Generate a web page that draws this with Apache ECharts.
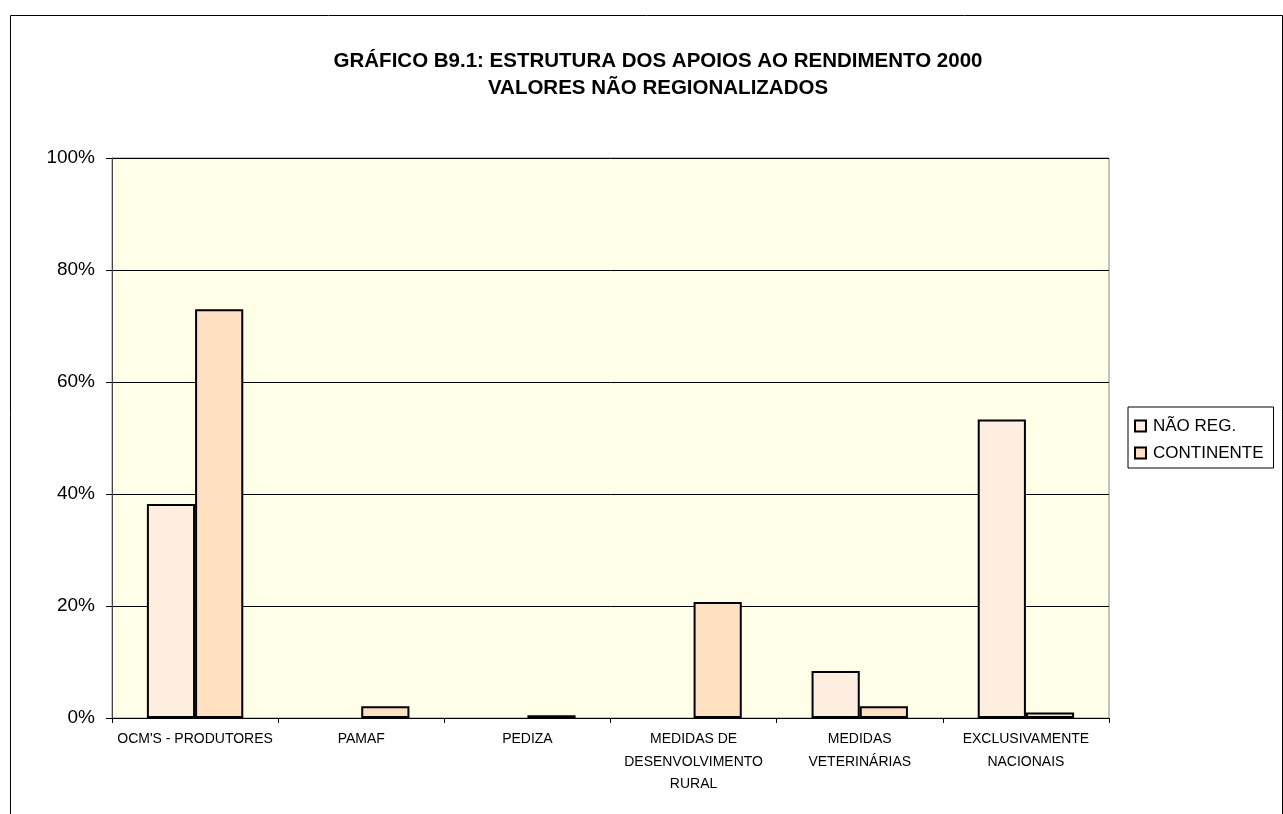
<!DOCTYPE html>
<html><head><meta charset="utf-8">
<script src="https://cdn.jsdelivr.net/npm/echarts@6/dist/echarts.min.js"></script>
<style>html,body{margin:0;padding:0;background:#fff}#c{width:1283px;height:814px}</style>
</head><body><div id="c"></div>
<script>
const categories = ["OCM'S - PRODUTORES", "PAMAF", "PEDIZA", "MEDIDAS DE\nDESENVOLVIMENTO\nRURAL", "MEDIDAS\nVETERINÁRIAS", "EXCLUSIVAMENTE\nNACIONAIS"];
const naoReg = [38.2, 0, 0, 0, 8.4, 53.3];
const continente = [73.0, 2.1, 0.5, 20.7, 2.1, 1.0];
const yTicks = [0, 20, 40, 60, 80, 100];

// zero values are not drawn (no visible bar outline in the original)
const hideZero = arr => arr.map(v => (v === 0 ? null : v));
const FONT = 'Liberation Sans, Arial, sans-serif';

const chart = echarts.init(document.getElementById('c'), null, {renderer: 'canvas'});
chart.setOption({
  animation: false,
  backgroundColor: '#ffffff',
  textStyle: {fontFamily: FONT},
  graphic: [{
    type: 'polyline', silent: true,
    shape: {points: [[10.5, 814], [10.5, 15.5], [1282.5, 15.5], [1282.5, 814]]},
    style: {stroke: '#000', lineWidth: 1, fill: null}
  }],
  title: {
    text: 'GRÁFICO B9.1: ESTRUTURA DOS APOIOS AO RENDIMENTO 2000\nVALORES NÃO REGIONALIZADOS',
    left: 653, top: 43, textAlign: 'center',
    textStyle: {fontSize: 20.5, fontWeight: 'bold', color: '#000', lineHeight: 27, fontFamily: FONT}
  },
  legend: {
    orient: 'vertical', left: 1128, top: 407,
    itemWidth: 11, itemHeight: 11, itemGap: 7,
    padding: [9, 10, 5, 6],
    borderColor: '#000', borderWidth: 1,
    textStyle: {fontSize: 17, color: '#000', lineHeight: 20, padding: [0, 0, 0, 2], fontFamily: FONT},
    data: [
      {name: 'NÃO REG.', icon: 'rect', itemStyle: {borderColor: '#000', borderWidth: 2}},
      {name: 'CONTINENTE', icon: 'rect', itemStyle: {borderColor: '#000', borderWidth: 2}}
    ]
  },
  grid: {left: 112, right: 174, top: 158, bottom: 96, show: true, backgroundColor: '#FFFFE8', borderColor: '#888', borderWidth: 1},
  xAxis: {
    type: 'category', data: categories,
    axisLine: {lineStyle: {color: '#000', width: 1}},
    axisTick: {show: true, alignWithLabel: false, length: 5, lineStyle: {color: '#000'}},
    axisLabel: {fontSize: 14, color: '#000', lineHeight: 22.5, margin: 10, interval: 0}
  },
  yAxis: {
    type: 'value', min: 0, max: 100, interval: 20,
    axisLine: {show: true, lineStyle: {color: '#444', width: 1}},
    axisTick: {show: true, length: 6, lineStyle: {color: '#000'}},
    axisLabel: {fontSize: 19, color: '#000', margin: 17, formatter: v => yTicks.includes(v) ? v + '%' : ''},
    splitLine: {lineStyle: {color: '#000', width: 1}}
  },
  series: [
    {name: 'NÃO REG.', type: 'bar', data: hideZero(naoReg), barGap: '0%', barCategoryGap: '42%',
     itemStyle: {color: '#FDEEE0', borderColor: '#000', borderWidth: 2}},
    {name: 'CONTINENTE', type: 'bar', data: hideZero(continente), barGap: '0%', barCategoryGap: '42%',
     itemStyle: {color: '#FFE0C0', borderColor: '#000', borderWidth: 2}}
  ]
});
</script></body></html>
